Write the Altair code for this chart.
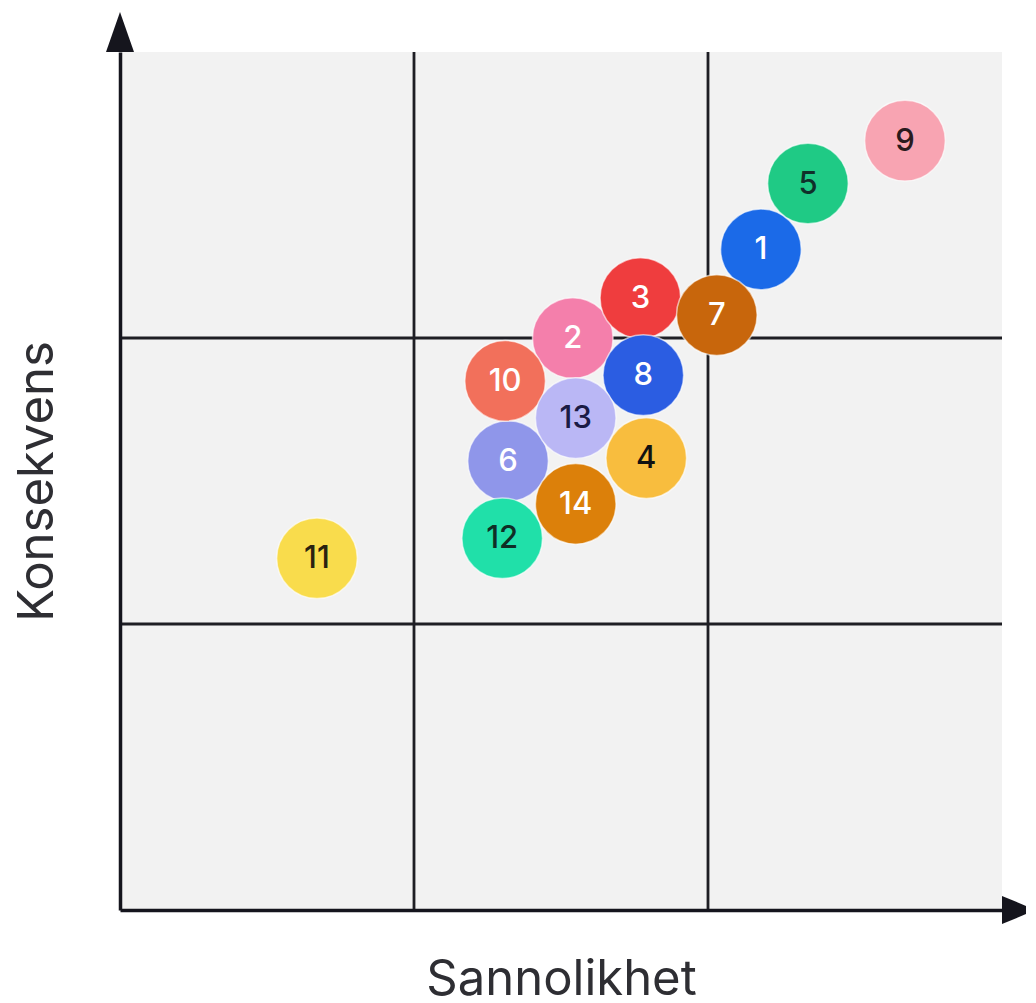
import altair as alt
import pandas as pd

# Risk items (id, likelihood, consequence) on a 0..3 scale
ids = ["1", "2", "3", "4", "5", "6", "7", "8", "9", "10", "11", "12", "13", "14"]
sannolikhet = [2.18, 1.54, 1.77, 1.79, 2.34, 1.32, 2.03, 1.78, 2.67, 1.31, 0.67, 1.30, 1.55, 1.55]
konsekvens = [2.31, 2.00, 2.14, 1.58, 2.54, 1.57, 2.08, 1.87, 2.69, 1.85, 1.23, 1.30, 1.72, 1.42]
fills = ["#1b6ae8", "#f47fab", "#ef3d3e", "#f8bd3e", "#1fca85", "#8f96ea", "#c8660c",
         "#2b5de2", "#f8a4b2", "#f2705b", "#f9dc4c", "#20e0a9", "#bab7f5", "#dc800a"]
text_colors = ["#ffffff", "#ffffff", "#ffffff", "#111111", "#10302a", "#ffffff", "#ffffff",
               "#ffffff", "#2a1a1e", "#ffffff", "#2a2210", "#0f2e26", "#1b1b45", "#ffffff"]

grid_positions = [1, 2]
domain_min, domain_max = 0, 3

points = pd.DataFrame({"id": ids, "x": sannolikhet, "y": konsekvens,
                       "fill": fills, "tc": text_colors})
vgrid = pd.DataFrame({"x": grid_positions, "y": [domain_min] * 2, "y2": [domain_max] * 2})
hgrid = pd.DataFrame({"y": grid_positions, "x": [domain_min] * 2, "x2": [domain_max] * 2})
bg = pd.DataFrame({"x": [domain_min], "x2": [domain_max], "y": [domain_min], "y2": [domain_max]})
yarrow = pd.DataFrame({"x": [domain_min], "y": [domain_max]})
xarrow = pd.DataFrame({"x": [domain_max], "y": [domain_min]})

xs = alt.Scale(domain=[domain_min, domain_max], nice=False, zero=False)
ys = alt.Scale(domain=[domain_min, domain_max], nice=False, zero=False)
axis_common = dict(domain=True, domainColor="#15151d", domainWidth=3.5, ticks=False,
                   labels=False, grid=False, titleFont="Inter", titleFontSize=49,
                   titleFontWeight="normal", titleColor="#2e2e33", zindex=1)
xaxis = alt.Axis(titlePadding=45, **axis_common)
yaxis = alt.Axis(titlePadding=58, **axis_common)


def X(f):
    return alt.X(f, type="quantitative", scale=xs, axis=xaxis, title="Sannolikhet")


def Y(f):
    return alt.Y(f, type="quantitative", scale=ys, axis=yaxis, title="Konsekvens")


background = alt.Chart(bg).mark_rect(fill="#f2f2f2").encode(
    x=X("x"), x2="x2", y=Y("y"), y2="y2")

vlines = alt.Chart(vgrid).mark_rule(color="#1e1e24", strokeWidth=2.8).encode(
    x=X("x"), y=Y("y"), y2="y2")
hlines = alt.Chart(hgrid).mark_rule(color="#1e1e24", strokeWidth=2.8).encode(
    y=Y("y"), x=X("x"), x2="x2")

up_arrow = alt.Chart(yarrow).mark_point(
    shape="M0,-1L0.7,1L-0.7,1Z", filled=True, opacity=1, color="#15151d",
    size=1600, yOffset=-20).encode(x=X("x"), y=Y("y"))
right_arrow = alt.Chart(xarrow).mark_point(
    shape="M1,0L-1,0.82L-1,-0.82Z", filled=True, opacity=1, color="#15151d",
    size=1156, xOffset=17).encode(x=X("x"), y=Y("y"))

circles = alt.Chart(points).mark_circle(
    size=6500, opacity=1, stroke="#ffffff", strokeWidth=1.5, strokeOpacity=0.6).encode(
    x=X("x"), y=Y("y"),
    color=alt.Color("fill:N", scale=None),
    order=alt.Order("order:Q"),
).transform_calculate(order="toNumber(datum.id)")

labels = alt.Chart(points).mark_text(
    font="Inter", fontSize=31, fontWeight=500, baseline="middle", align="center", dy=1).encode(
    x=X("x"), y=Y("y"), text="id:N",
    color=alt.Color("tc:N", scale=None))

chart = alt.layer(background, vlines, hlines, circles, labels, up_arrow, right_arrow).properties(
    width=882, height=858,
    autosize=alt.AutoSizeParams(type="none"),
    padding={"left": 112, "top": 44, "right": 24, "bottom": 92},
).configure_view(stroke="transparent")

chart.save("out.html", embed_options={"renderer": "svg", "actions": False})
